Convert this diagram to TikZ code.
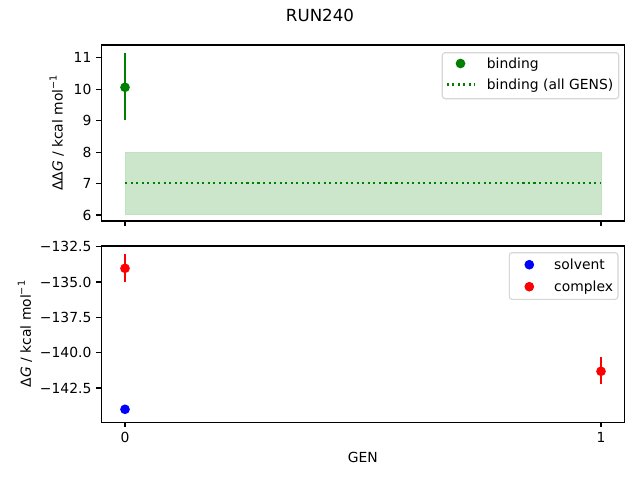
\documentclass[tikz,border=0pt]{standalone}
\usepackage{fontspec}
\setmainfont{DejaVu Sans}
\definecolor{mplgreen}{RGB}{0,128,0}
\definecolor{mplblue}{RGB}{0,0,255}
\definecolor{mplred}{RGB}{255,0,0}
\definecolor{bandfill}{RGB}{204,230,204}
\definecolor{bandedge}{RGB}{194,224,194}
\definecolor{legedge}{RGB}{214,214,214}
\newcommand\supmin[1]{\raisebox{0.42em}{\fontsize{9.7}{10}\selectfont #1}}
\tikzset{
  axframe/.style={line width=1.11pt, black},
  tickmk/.style={line width=1.11pt, black},
  ticklab/.style={font=\fontsize{13.89}{16}\selectfont, inner sep=0pt},
  axlab/.style={font=\fontsize{13.89}{16}\selectfont, inner sep=0pt},
  errbar/.style={line width=2.08pt},
  datadot/.style={circle, inner sep=0pt, minimum size=9.7pt, draw=none},
  dotline/.style={line width=2.08pt, mplgreen, dash pattern=on 2.08pt off 3.44pt},
  legbox/.style={draw=legedge, line width=1.11pt, fill=white, rounded corners=2.8pt},
  legtext/.style={font=\fontsize{13.89}{16}\selectfont, inner sep=0pt, anchor=base west}
}
\begin{document}
\begin{tikzpicture}[x=1pt,y=-1pt]
\useasboundingbox (0,0) rectangle (640,480);
\fill[white] (0,0) rectangle (640,480);
% title
\node[font=\fontsize{16.67}{20}\selectfont, inner sep=0pt, anchor=base] (title) at (320,21.3) {RUN240};

% ===== top axes =====
\fill[bandfill] (125,152.7) rectangle (601,214);
\draw[bandedge, line width=1pt] (125,152.7) rectangle (601,214);
\coordinate (dl0) at (125,183.4);
\coordinate (dl1) at (601,183.4);
\draw[dotline] (dl0) -- (dl1);
\coordinate (ebA1) at (125,52.7);
\coordinate (ebA2) at (125,120);
\draw[errbar, mplgreen] (ebA1) -- (ebA2);
\node[datadot, fill=mplgreen] (bind0) at (125,87.3) {};
\draw[axframe] (101.3,45) rectangle (624.3,221);
% y ticks
\foreach \v/\yy in {11/57.7,10/89.16,9/120.62,8/152.08,7/183.54,6/215.0}{
  \draw[tickmk] (96.4,\yy) -- (101.3,\yy);
  \node[ticklab, anchor=east] (ty\v) at (91.6,\yy) {\v};
}
% x ticks (no labels)
\draw[tickmk] (125,221) -- (125,225.9);
\draw[tickmk] (601,221) -- (601,225.9);
\node[axlab, rotate=90] (ylabA) at (56.7,133) {ΔΔ\textit{G} / kcal mol\supmin{−1}};
% legend top
\draw[legbox] (442.3,52.7) rectangle (618.7,98.7);
\node[datadot, fill=mplgreen] (lgA1) at (460.5,63.5) {};
\coordinate (lgd0) at (446.6,84.5);
\coordinate (lgd1) at (474.4,84.5);
\draw[dotline] (lgd0) -- (lgd1);
\node[legtext] (lgtA1) at (486.7,68.6) {binding};
\node[legtext] (lgtA2) at (486.7,89.6) {binding (all GENS)};

% ===== bottom axes =====
\coordinate (ebB1) at (125,254);
\coordinate (ebB2) at (125,281.7);
\draw[errbar, mplred] (ebB1) -- (ebB2);
\coordinate (ebC1) at (601,357);
\coordinate (ebC2) at (601,384.3);
\draw[errbar, mplred] (ebC1) -- (ebC2);
\node[datadot, fill=mplblue] (solv0) at (125,409.3) {};
\node[datadot, fill=mplred] (cplx0) at (125,268.3) {};
\node[datadot, fill=mplred] (cplx1) at (601,371.3) {};
\draw[axframe] (101.3,246) rectangle (624.3,422.3);
\foreach \n/\v/\yy in {a/−132.5/246.7,b/−135.0/282.0,c/−137.5/317.4,d/−140.0/352.7,e/−142.5/388.0}{
  \draw[tickmk] (96.4,\yy) -- (101.3,\yy);
  \node[ticklab, anchor=east] (tb\n) at (91.6,\yy) {\v};
}
\draw[tickmk] (125,422.3) -- (125,427.2);
\draw[tickmk] (601,422.3) -- (601,427.2);
\node[ticklab, anchor=north] (tx0) at (125,432.3) {0};
\node[ticklab, anchor=north] (tx1) at (601,432.3) {1};
\node[axlab, anchor=base] (xlab) at (362.8,462.3) {GEN};
\node[axlab, rotate=90] (ylabB) at (25,334) {Δ\textit{G} / kcal mol\supmin{−1}};
% legend bottom
\draw[legbox] (509.3,252.7) rectangle (618,299.3);
\node[datadot, fill=mplblue] (lgB1) at (529.3,264.7) {};
\node[datadot, fill=mplred] (lgB2) at (529.3,286.7) {};
\node[legtext] (lgtB1) at (554,269.8) {solvent};
\node[legtext] (lgtB2) at (554,291.8) {complex};
\end{tikzpicture}
\end{document}
